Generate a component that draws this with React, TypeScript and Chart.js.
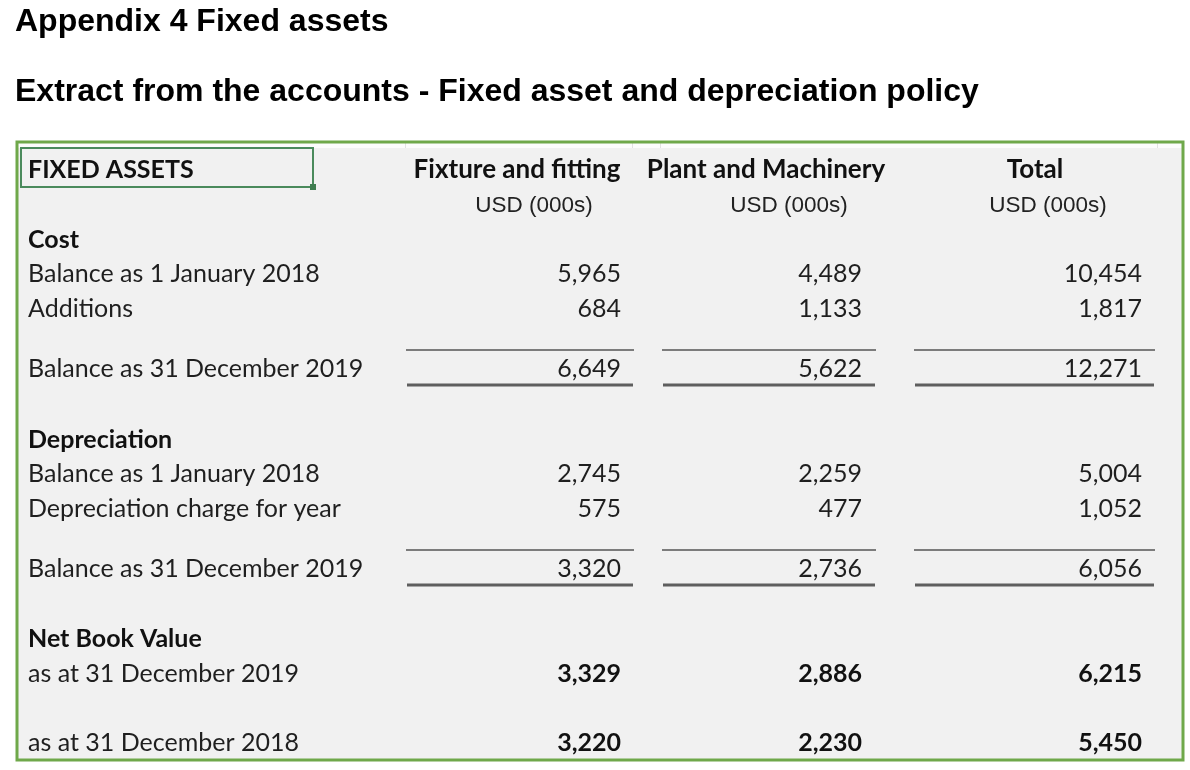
import React, { useEffect, useRef } from 'react';
import { Chart, registerables } from 'chart.js';

Chart.register(...registerables);

// ---------- text ----------
const TITLE = 'Appendix 4 Fixed assets';
const SUBTITLE = 'Extract from the accounts - Fixed asset and depreciation policy';
const TABLE_HEADING = 'FIXED ASSETS';
const CATEGORIES = ['Fixture and fitting', 'Plant and Machinery', 'Total'];
const UNIT_LABEL = 'USD (000s)';
const SECTIONS = ['Cost', 'Depreciation', 'Net Book Value'];
const ROW_LABELS = [
  'Balance as 1 January 2018',
  'Additions',
  'Balance as 31 December 2019',
  'Balance as 1 January 2018',
  'Depreciation charge for year',
  'Balance as 31 December 2019',
  'as at 31 December 2019',
  'as at 31 December 2018',
];

// ---------- values (USD 000s): Fixture and fitting, Plant and Machinery, Total ----------
const costOpening = [5965, 4489, 10454];
const costAdditions = [684, 1133, 1817];
const costClosing = [6649, 5622, 12271];
const depOpening = [2745, 2259, 5004];
const depCharge = [575, 477, 1052];
const depClosing = [3320, 2736, 6056];
const nbv2019 = [3329, 2886, 6215];
const nbv2018 = [3220, 2230, 5450];

const ROW_VALUES = [costOpening, costAdditions, costClosing, depOpening, depCharge, depClosing, nbv2019, nbv2018];
const ROW_BOLD = [false, false, false, false, false, false, true, true];

// ---------- layout (kept apart from the data) ----------
const ROW_Y = [274, 309, 369, 474, 509, 569, 674, 743];
const SECTION_Y = [240, 440, 639];
const HEAD_Y = 170;
const UNIT_Y = 206;
const RULES = [
  { top: 350, bottom: 385 },
  { top: 550, bottom: 585 },
];
const COL_RIGHT = [621, 862, 1142];
const HEAD_CENTER = [517, 766, 1035];
const UNIT_CENTER = [534, 789, 1048];
const RULE_SPAN = [
  [406, 634],
  [662, 876],
  [914, 1155],
];
const LABEL_X = 28;
const BOX = { left: 17, top: 142, right: 1183, bottom: 760 };
const HEAD_CELL = { left: 21, top: 148, right: 313, bottom: 187 };

const LABEL_FONT = '25px Lato';
const LABEL_BOLD = 'bold 25px Lato';
const HEAD_BOLD = 'bold 26px Lato';
const UNIT_FONT = '22.5px "Liberation Sans"';
const TITLE_FONT = { family: '"Liberation Sans", Arial, sans-serif', size: 32, weight: 'bold' as const, lineHeight: 1.2 };

const fmt = (v: number) => v.toLocaleString('en-US');

const tablePlugin = {
  id: 'fixedAssetTable',
  beforeDraw(chart: any) {
    const { ctx } = chart;
    const X = (v: number) => chart.scales.x.getPixelForValue(v);
    const Y = (v: number) => chart.scales.y.getPixelForValue(v);
    ctx.save();
    ctx.fillStyle = '#ffffff';
    ctx.fillRect(0, 0, chart.width, chart.height);
    // table background
    ctx.fillStyle = '#f1f1f1';
    ctx.fillRect(X(BOX.left), Y(BOX.top), X(BOX.right) - X(BOX.left), Y(BOX.bottom) - Y(BOX.top));
    // faint header strip
    ctx.fillStyle = '#fcfcfc';
    ctx.fillRect(X(BOX.left), Y(BOX.top), X(BOX.right) - X(BOX.left), Y(HEAD_CELL.top) - Y(BOX.top));
    ctx.strokeStyle = '#e2e2e2';
    ctx.lineWidth = 1;
    [405, 632, 660, 1157].forEach((gx) => {
      ctx.beginPath();
      ctx.moveTo(X(gx) + 0.5, Y(BOX.top));
      ctx.lineTo(X(gx) + 0.5, Y(HEAD_CELL.top));
      ctx.stroke();
    });
    // green frame
    ctx.strokeStyle = '#6fa84a';
    ctx.lineWidth = 3;
    ctx.strokeRect(X(BOX.left), Y(BOX.top), X(BOX.right) - X(BOX.left), Y(BOX.bottom) - Y(BOX.top));
    // selected heading cell
    ctx.strokeStyle = '#4a8a5c';
    ctx.lineWidth = 2;
    ctx.strokeRect(X(HEAD_CELL.left), Y(HEAD_CELL.top), X(HEAD_CELL.right) - X(HEAD_CELL.left), Y(HEAD_CELL.bottom) - Y(HEAD_CELL.top));
    ctx.fillStyle = '#3f7d50';
    ctx.fillRect(X(HEAD_CELL.right) - 3, Y(HEAD_CELL.bottom) - 3, 6, 6);
    ctx.restore();
  },
  afterDatasetsDraw(chart: any) {
    const { ctx } = chart;
    const X = (v: number) => chart.scales.x.getPixelForValue(v);
    const Y = (v: number) => chart.scales.y.getPixelForValue(v);
    ctx.save();
    ctx.textBaseline = 'middle';

    // heading
    ctx.fillStyle = '#111';
    ctx.font = LABEL_BOLD;
    ctx.textAlign = 'left';
    ctx.fillText(TABLE_HEADING, X(LABEL_X), Y(HEAD_Y));
    ctx.textAlign = 'center';
    ctx.font = HEAD_BOLD;
    CATEGORIES.forEach((c, j) => ctx.fillText(c, X(HEAD_CENTER[j]), Y(HEAD_Y)));
    ctx.font = UNIT_FONT;
    ctx.fillStyle = '#222';
    CATEGORIES.forEach((_, j) => ctx.fillText(UNIT_LABEL, X(UNIT_CENTER[j]), Y(UNIT_Y)));

    // sections and row labels
    ctx.textAlign = 'left';
    ctx.font = LABEL_BOLD;
    ctx.fillStyle = '#111';
    SECTIONS.forEach((s, i) => ctx.fillText(s, X(LABEL_X), Y(SECTION_Y[i])));
    ctx.font = LABEL_FONT;
    ctx.fillStyle = '#1f1f1f';
    ROW_LABELS.forEach((l, i) => ctx.fillText(l, X(LABEL_X), Y(ROW_Y[i])));

    // values at the dataset points
    ctx.textAlign = 'right';
    chart.data.datasets.forEach((_: any, j: number) => {
      const meta = chart.getDatasetMeta(j);
      meta.data.forEach((pt: any, i: number) => {
        ctx.font = ROW_BOLD[i] ? LABEL_BOLD : LABEL_FONT;
        ctx.fillStyle = ROW_BOLD[i] ? '#111' : '#1f1f1f';
        ctx.fillText(fmt(ROW_VALUES[i][j]), pt.x, pt.y);
      });
    });

    // subtotal rules
    RULES.forEach((r) => {
      RULE_SPAN.forEach(([a, b]) => {
        ctx.strokeStyle = '#555';
        ctx.lineWidth = 1.5;
        ctx.beginPath();
        ctx.moveTo(X(a), Y(r.top));
        ctx.lineTo(X(b), Y(r.top));
        ctx.stroke();
        ctx.strokeStyle = '#5e5e5e';
        ctx.lineWidth = 3;
        ctx.beginPath();
        ctx.moveTo(X(a + 1), Y(r.bottom));
        ctx.lineTo(X(b - 1), Y(r.bottom));
        ctx.stroke();
      });
    });
    ctx.restore();
  },
};

export default function App() {
  const ref = useRef<HTMLCanvasElement | null>(null);

  useEffect(() => {
    let chart: Chart | null = null;
    let cancelled = false;
    const fonts = [LABEL_FONT, LABEL_BOLD, HEAD_BOLD, UNIT_FONT, 'bold 32px "Liberation Sans"'];
    const make = () => {
      if (cancelled || !ref.current) return;
      chart = new Chart(ref.current, {
        type: 'scatter',
        data: {
          datasets: CATEGORIES.map((c, j) => ({
            label: c,
            data: ROW_Y.map((y) => ({ x: COL_RIGHT[j], y })),
            pointRadius: 0,
            pointHoverRadius: 0,
            showLine: false,
          })),
        },
        options: {
          responsive: false,
          animation: false,
          events: [],
          layout: { padding: { left: 15, right: 0, top: 0, bottom: 0 } },
          plugins: {
            legend: { display: false },
            tooltip: { enabled: false },
            title: {
              display: true,
              text: TITLE,
              align: 'start',
              color: '#000',
              font: TITLE_FONT,
              padding: { top: 2.8, bottom: 0 },
            },
            subtitle: {
              display: true,
              text: SUBTITLE,
              align: 'start',
              color: '#000',
              font: TITLE_FONT,
              padding: { top: 31.6, bottom: 28.8 },
            },
          },
          scales: {
            x: { type: 'linear', display: false, min: 15, max: 1190 },
            y: { type: 'linear', display: false, min: 140, max: 770, reverse: true },
          },
        },
        plugins: [tablePlugin],
      });
    };
    Promise.all(fonts.map((f) => document.fonts.load(f).catch(() => null))).then(make, make);
    return () => {
      cancelled = true;
      if (chart) chart.destroy();
    };
  }, []);

  return (
    <div style={{ position: 'fixed', left: 0, top: 0, width: 1190, height: 770, background: '#fff' }}>
      <canvas ref={ref} width={1190} height={770} style={{ display: 'block', width: 1190, height: 770 }} />
    </div>
  );
}
